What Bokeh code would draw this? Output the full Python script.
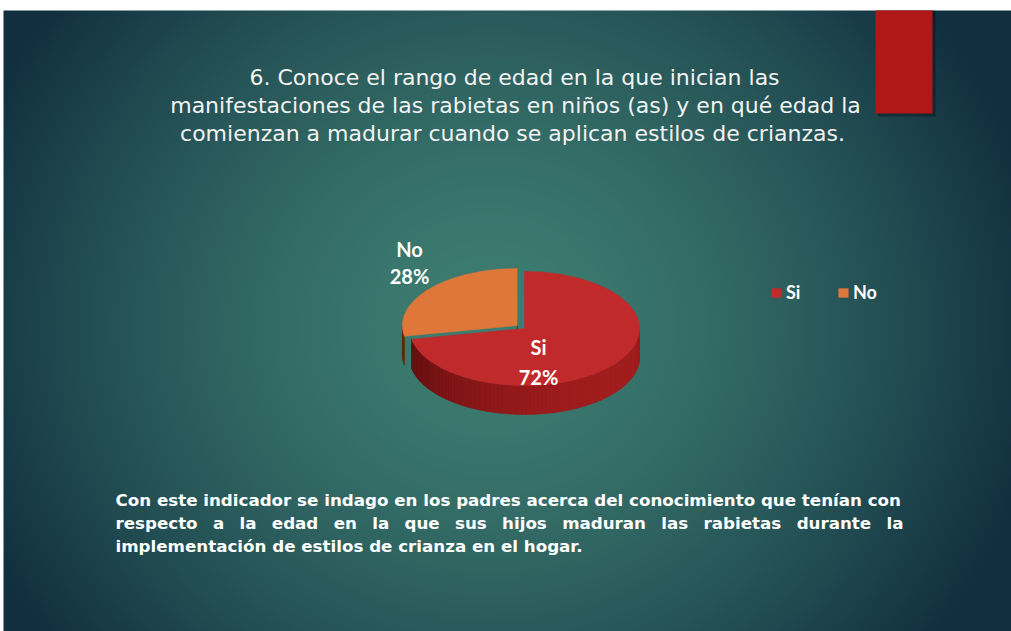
import numpy as np
from bokeh.plotting import figure
from bokeh.models import Range1d, Legend, LegendItem
from bokeh.core.properties import value
from bokeh.embed import file_html
from bokeh.resources import INLINE

# ---------------- data ----------------
categories = ["Si", "No"]
percent = [72, 28]
top_colors = ["#c12a2b", "#de7739"]
side_dark = ["#580a0b", "#5e270b"]
side_light = ["#a31c1d", "#8a4216"]
explode = [0.0, 0.08]

title_lines = [
    "6. Conoce el rango de edad en la que inician las",
    "manifestaciones de las rabietas en niños (as) y en qué edad la",
    "comienzan a madurar cuando se aplican estilos de crianzas.",
]
para_line1 = "Con este indicador se indago en los padres acerca del conocimiento que tenían con"
para_line2 = ["respecto", "a", "la", "edad", "en", "la", "que", "sus", "hijos",
              "maduran", "las", "rabietas", "durante", "la"]
para_line3 = "implementación de estilos de crianza en el hogar."

# ---------------- figure ----------------
W, H = 1011, 631
SX, SY = 3, 10  # slide top-left corner (page pixels)

p = figure(width=W, height=H, output_backend="svg", toolbar_location=None,
           x_range=Range1d(0, W), y_range=Range1d(-H, 0),
           x_axis_location=None, y_axis_location=None, min_border=0,
           outline_line_color=None)
p.grid.visible = False
p.background_fill_color = "white"
p.border_fill_color = "white"

# background radial gradient for the slide area
SW, SH = W - SX, H - SY + 2
yy, xx = np.mgrid[0:SH, 0:SW]
px = xx + SX + 0.5
py = yy + SY + 0.5
d = np.sqrt(((px - 490) / 560.0) ** 2 + ((py - 325) / 520.0) ** 2)
t = np.clip(d, 0, 1) ** 1.5
c0 = np.array([62, 126, 114], dtype=float)
c1 = np.array([17, 47, 63], dtype=float)
rgb = c0[None, None, :] + (c1 - c0)[None, None, :] * t[..., None]
img = np.empty((SH, SW), dtype=np.uint32)
view = img.view(dtype=np.uint8).reshape((SH, SW, 4))
view[..., 0] = rgb[..., 0]
view[..., 1] = rgb[..., 1]
view[..., 2] = rgb[..., 2]
view[..., 3] = 255
p.image_rgba(image=[img[::-1]], x=SX, y=-(H + 2), dw=SW, dh=SH)

# red accent bar with shadow
p.quad(left=877, right=935, top=-SY, bottom=-116, fill_color="black",
       fill_alpha=0.3, line_color=None)
p.quad(left=875, right=932, top=-SY, bottom=-113, fill_color="#b01717",
       line_color=None)

# ---------------- 3D pie ----------------
cx, cy = 524, 328
rx, ry = 115, 57
depth = 29

fr = np.array(percent, dtype=float) / sum(percent)
ends = 90 - 360 * np.cumsum(fr)
starts = np.concatenate([[90.0], ends[:-1]])


def pt(tdeg, ox, oy, dz=0.0):
    r = np.radians(tdeg)
    return cx + ox + rx * np.cos(r), cy + oy - ry * np.sin(r) + dz


def hexmix(a, b, w):
    a = [int(a[i:i + 2], 16) for i in (1, 3, 5)]
    b = [int(b[i:i + 2], 16) for i in (1, 3, 5)]
    c = [round(a[k] + (b[k] - a[k]) * w) for k in range(3)]
    return "#%02x%02x%02x" % tuple(c)


offs = []
for i in range(len(percent)):
    mid = np.radians((starts[i] + ends[i]) / 2)
    offs.append((explode[i] * rx * np.cos(mid), -explode[i] * ry * np.sin(mid)))

top_renderers = {}
# draw back (exploded) slice first, then front slice
for i in [1, 0]:
    s, e = starts[i], ends[i]
    ox, oy = offs[i]
    # radial face at the end angle (visible for the exploded slice)
    if explode[i] > 0:
        ax, ay = cx + ox, cy + oy
        bx, by = pt(e, ox, oy)
        p.patch([ax, bx, bx, ax], [-ay, -by, -(by + depth), -(ay + depth)],
                fill_color=side_dark[i], line_color=side_dark[i], line_width=0.5)
    # outer wall (front half only)
    lo, hi = max(e, -180.0), min(s, 0.0)
    if lo < hi:
        n = max(2, int((hi - lo) / 2))
        angs = np.linspace(lo, hi, n + 1)
        xs_list, ys_list, cols = [], [], []
        for k in range(n):
            a1, a2 = angs[k], angs[k + 1]
            x1, y1 = pt(a1, ox, oy)
            x2, y2 = pt(a2, ox, oy)
            xs_list.append([x1, x2, x2, x1])
            ys_list.append([-y1, -y2, -(y2 + depth), -(y1 + depth)])
            w = ((a1 + a2) / 2 + 180) / 180.0
            cols.append(hexmix(side_dark[i], side_light[i], np.sin(np.pi * w * 0.62)))
        p.patches(xs_list, ys_list, fill_color=cols, line_color=cols, line_width=0.6)
    # top face
    arc = np.linspace(s, e, 120)
    tx = [cx + ox] + [pt(a, ox, oy)[0] for a in arc]
    ty = [-(cy + oy)] + [-pt(a, ox, oy)[1] for a in arc]
    top_renderers[i] = p.patch(tx, ty, fill_color=top_colors[i],
                               line_color=top_colors[i], line_width=0.5)

# data labels
lab_font = value("Lato")
p.text(x=[409, 409], y=[-248, -275], text=[categories[1], f"{percent[1]}%"],
       text_color="white", text_font=lab_font, text_font_style="bold",
       text_font_size="20px", text_align="center", text_baseline="middle")
p.text(x=[538, 538], y=[-346, -376], text=[categories[0], f"{percent[0]}%"],
       text_color="white", text_font=lab_font, text_font_style="bold",
       text_font_size="20px", text_align="center", text_baseline="middle")

# legend
legend = Legend(items=[LegendItem(label=categories[i], renderers=[top_renderers[i]])
                       for i in range(len(categories))],
                orientation="horizontal", location=(770, 328),
                background_fill_alpha=0, border_line_alpha=0,
                label_text_color="white", label_text_font="Lato",
                label_text_font_style="bold", label_text_font_size="18px",
                glyph_width=12, glyph_height=11, label_standoff=4,
                spacing=31, padding=0, margin=0)
p.add_layout(legend)

# title
p.text(x=[514, 515, 512], y=[-77, -105, -133], text=title_lines,
       text_color="#f3f3f3", text_font=value("DejaVu Sans"),
       text_font_size="22px", text_align="center", text_baseline="middle")

# paragraph (justified line 2: word widths from DejaVu Sans Bold advances, em)
FS = 16.7
adv = {"a": .675, "b": .716, "c": .593, "d": .716, "e": .678, "h": .712, "i": .343,
       "j": .343, "l": .343, "m": 1.042, "n": .712, "o": .687, "p": .716, "q": .716,
       "r": .493, "s": .595, "t": .478, "u": .712}
left_x, right_x = 115, 903
wid = [sum(adv.get(ch, .6) for ch in wd) * FS for wd in para_line2]
gap = (right_x - left_x - sum(wid)) / (len(wid) - 1)
line2_x = []
xcur = left_x
for wv in wid:
    line2_x.append(xcur)
    xcur += wv + gap

pf = dict(text_color="white", text_font=value("DejaVu Sans"), text_font_style="bold",
          text_font_size=f"{FS}px", text_align="left", text_baseline="middle")
p.text(x=[left_x], y=[-499], text=[para_line1], **pf)
p.text(x=line2_x, y=[-522] * len(para_line2), text=para_line2, **pf)
p.text(x=[left_x], y=[-545], text=[para_line3], **pf)

open("out.html", "w").write(file_html(p, INLINE))
